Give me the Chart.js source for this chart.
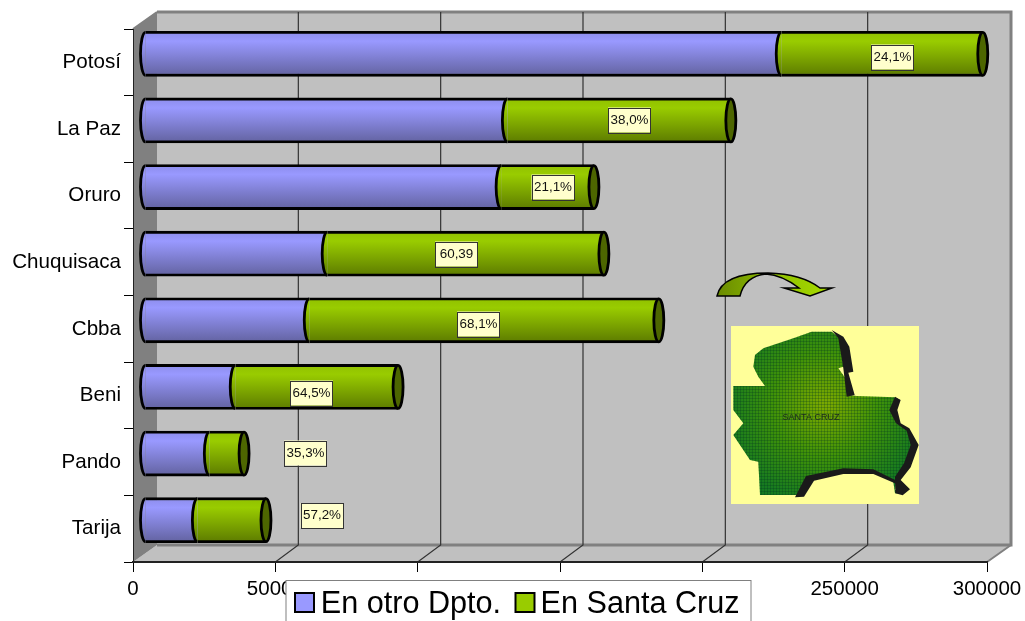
<!DOCTYPE html>
<html>
<head>
<meta charset="utf-8">
<style>html,body{margin:0;padding:0;background:#fff;overflow:hidden}canvas{display:block}</style>
<script src="https://cdn.jsdelivr.net/npm/chart.js@4"></script>
</head>
<body>
<canvas id="c" width="1025" height="621"></canvas>
<script>
const categories = ["Potosí","La Paz","Oruro","Chuquisaca","Cbba","Beni","Pando","Tarija"];
const enOtroDpto = [223500,127300,125100,64000,57700,31700,22600,18400];
const enSantaCruz = [70800,78500,32600,97200,122800,57200,12200,24100];
const shareLabels = ["24,1%","38,0%","21,1%","60,39","68,1%","64,5%","35,3%","57,2%"];
const seriesNames = ["En otro Dpto.","En Santa Cruz"];

const FONT = '"Liberation Sans", Arial, sans-serif';
const DEPTH = {x:24, y:-17};
const BAR = {x:12, y:-8.5, h:45, rx:5};
const LABEL_POS = [[892.5,57],[629.5,120],[553,187],[456.5,254],[478.5,324],[311.5,393],[305.5,453],[322,515.5]];
const BLUE = ['#8c8cea','#9999ff','#62629f'];
const GREEN = ['#90c000','#99cc00','#5c7a00'];

function barGradient(ctx, yc, c){
  const g = ctx.createLinearGradient(0, yc-BAR.h/2, 0, yc+BAR.h/2);
  g.addColorStop(0,c[0]); g.addColorStop(.22,c[1]); g.addColorStop(1,c[2]);
  return g;
}
function scriptFill(c, solid){
  return (context)=>{
    const y = context.chart.scales.y;
    if(!y || context.dataIndex===undefined) return solid;
    const yc = y.getPixelForValue(context.dataIndex);
    if(!Number.isFinite(yc)) return solid;
    return barGradient(context.chart.ctx, yc, c);
  };
}
const MAP = [[335,215],[395,215],[420,235],[425,280],[430,320],[415,325],[440,360],[445,405],[470,408],[585,412],[600,420],[575,450],[590,490],[625,510],[640,550],[620,610],[590,650],[585,690],[612,690],[600,700],[585,700],[580,665],[520,630],[430,630],[330,650],[290,705],[180,705],[175,605],[150,600],[130,570],[100,525],[130,490],[100,450],[100,378],[195,378],[175,350],[160,320],[165,285],[190,265],[280,235]];
const MAP_SHADOWS = [
  [[395,210],[430,230],[448,260],[460,335],[445,338],[464,405],[440,410],[430,325],[415,235]],
  [[585,410],[602,420],[592,450],[602,490],[628,505],[656,555],[632,622],[602,660],[630,688],[608,706],[586,700],[585,650],[612,610],[632,555],[620,512],[588,490],[568,450]],
  [[285,712],[318,648],[430,625],[520,628],[590,662],[590,672],[520,642],[430,642],[342,662],[312,710]]
];
function polyPath(ctx,pts){
  ctx.beginPath();
  pts.forEach((p,i)=>{const x=700+p[0]/3,y=260+p[1]/3; i?ctx.lineTo(x,y):ctx.moveTo(x,y);});
  ctx.closePath();
}
const scene = {
  id:'scene',
  beforeDraw(chart){
    const {ctx,chartArea:a,scales:{x}} = chart;
    const dx=DEPTH.x, dy=DEPTH.y;
    ctx.save();
    ctx.fillStyle='#fff'; ctx.fillRect(0,0,chart.width,chart.height);
    ctx.fillStyle='#c0c0c0';
    ctx.fillRect(a.left+dx,a.top+dy-1,a.width,a.height);
    ctx.beginPath();ctx.moveTo(a.left,a.bottom);ctx.lineTo(a.left+dx,a.bottom+dy);ctx.lineTo(a.right+dx,a.bottom+dy);ctx.lineTo(a.right,a.bottom);ctx.closePath();ctx.fill();
    ctx.fillStyle='#808080';
    ctx.beginPath();ctx.moveTo(a.left,a.top);ctx.lineTo(a.left+dx,a.top+dy);ctx.lineTo(a.left+dx,a.bottom+dy);ctx.lineTo(a.left,a.bottom);ctx.closePath();ctx.fill();
    ctx.strokeStyle='#808080';ctx.lineWidth=3;
    ctx.beginPath();ctx.moveTo(a.left+dx,a.top+dy);ctx.lineTo(a.right+dx,a.top+dy);ctx.lineTo(a.right+dx,a.bottom+dy);ctx.lineTo(a.left+dx,a.bottom+dy);ctx.stroke();
    ctx.lineWidth=2;
    ctx.beginPath();ctx.moveTo(a.right,a.bottom);ctx.lineTo(a.right+dx,a.bottom+dy);ctx.moveTo(a.left,a.top);ctx.lineTo(a.left+dx,a.top+dy);ctx.stroke();
    ctx.strokeStyle='#333';ctx.lineWidth=1.2;
    x.ticks.forEach(t=>{
      if(t.value===0||t.value===x.max) return;
      const px=x.getPixelForValue(t.value);
      ctx.beginPath();ctx.moveTo(px,a.bottom);ctx.lineTo(px+dx-1,a.bottom+dy);ctx.lineTo(px+dx-1,a.top+dy);ctx.stroke();
    });
    ctx.restore();
  },
  beforeDatasetsDraw(chart){ chart.ctx.save(); chart.ctx.translate(BAR.x,BAR.y); },
  afterDatasetsDraw(chart){
    const ctx=chart.ctx;
    const m0=chart.getDatasetMeta(0).data, m1=chart.getDatasetMeta(1).data;
    ctx.lineWidth=2.8; ctx.strokeStyle='#000';
    m0.forEach((b,i)=>{
      const e=m1[i], y=b.y, ry=BAR.h/2-1, rx=BAR.rx;
      const xs=b.base;
      ctx.fillStyle=barGradient(ctx,y,BLUE);
      ctx.beginPath();ctx.ellipse(xs,y,rx,ry,0,Math.PI/2,Math.PI*1.5);ctx.fill();ctx.stroke();
      ctx.fillStyle=barGradient(ctx,y,GREEN);
      ctx.beginPath();ctx.ellipse(b.x,y,rx,ry,0,Math.PI/2,Math.PI*1.5);ctx.fill();ctx.stroke();
      ctx.fillStyle='#4d6600';
      ctx.beginPath();ctx.ellipse(e.x,y,rx,ry,0,0,Math.PI*2);ctx.fill();ctx.stroke();
    });
    ctx.restore();
  },
  afterDraw(chart){
    const ctx=chart.ctx;
    ctx.save();
    // share labels
    ctx.font='13.4px '+FONT;ctx.textAlign='center';ctx.textBaseline='middle';
    shareLabels.forEach((s,i)=>{
      const [cx,cy]=LABEL_POS[i];
      ctx.fillStyle='#ffffcc';ctx.fillRect(cx-21.5,cy-12.5,43,25);
      ctx.strokeStyle='#333';ctx.lineWidth=1;ctx.strokeRect(Math.round(cx-21.5)+.5,Math.round(cy-12.5)+.5,42,25);
      ctx.fillStyle='#111';ctx.fillText(s,cx,cy);
    });
    // curved arrow
    const ag=ctx.createLinearGradient(717,0,832,0);
    ag.addColorStop(0,'#6a8a00');ag.addColorStop(.5,'#8fc000');ag.addColorStop(1,'#a8dc00');
    ctx.fillStyle=ag;ctx.strokeStyle='#000';ctx.lineWidth=1.5;
    ctx.beginPath();ctx.moveTo(717,296);ctx.quadraticCurveTo(722,273,768,273);ctx.quadraticCurveTo(802,274,820,288);
    ctx.lineTo(832,288);ctx.lineTo(810,296);ctx.lineTo(784,288);ctx.lineTo(799,288);ctx.quadraticCurveTo(782,275,766,274);
    ctx.quadraticCurveTo(745,276,740,296);ctx.closePath();ctx.fill();ctx.stroke();
    // map picture
    ctx.fillStyle='#ffff99';ctx.fillRect(731,326,188,178);
    const mg=ctx.createRadialGradient(825,405,5,825,405,100);
    mg.addColorStop(0,'#78a800');mg.addColorStop(.5,'#3f9208');mg.addColorStop(1,'#167a20');
    ctx.fillStyle=mg;polyPath(ctx,MAP);ctx.fill();
    ctx.save();polyPath(ctx,MAP);ctx.clip();
    ctx.strokeStyle='rgba(0,50,30,.25)';ctx.lineWidth=1;
    for(let px=731;px<920;px+=3){ctx.beginPath();ctx.moveTo(px+.5,326);ctx.lineTo(px+.5,504);ctx.stroke();}
    for(let py=326;py<505;py+=3){ctx.beginPath();ctx.moveTo(731,py+.5);ctx.lineTo(919,py+.5);ctx.stroke();}
    ctx.restore();
    ctx.fillStyle='#1a1a1a';
    MAP_SHADOWS.forEach(s=>{polyPath(ctx,s);ctx.fill();});
    ctx.fillStyle='#1c2a20';ctx.font='9px '+FONT;ctx.textAlign='center';
    ctx.fillText('SANTA CRUZ',811,418);
    // legend
    ctx.fillStyle='#fff';ctx.fillRect(286,580,465,45);
    ctx.strokeStyle='#808080';ctx.lineWidth=1;ctx.strokeRect(286,580.5,465,45);
    const items=[{sx:295,tx:320.8,c:'#9999ff'},{sx:515.5,tx:540.6,c:'#99cc00'}];
    ctx.font='30.6px '+FONT;ctx.textAlign='left';ctx.textBaseline='alphabetic';
    items.forEach((it,i)=>{
      ctx.fillStyle=it.c;ctx.fillRect(it.sx,593,19,19);
      ctx.strokeStyle='#000';ctx.lineWidth=2;ctx.strokeRect(it.sx,593,19,19);
      ctx.fillStyle='#000';ctx.fillText(chart.data.datasets[i].label,it.tx,613);
    });
    ctx.restore();
  }
};
new Chart(document.getElementById('c').getContext('2d'),{
  type:'bar',
  data:{
    labels:categories,
    datasets:[
      {label:seriesNames[0],data:enOtroDpto,backgroundColor:scriptFill(BLUE,'#9999ff'),borderColor:'#000',borderWidth:{top:2.8,bottom:2.8,left:0,right:0},borderSkipped:false,clip:false},
      {label:seriesNames[1],data:enSantaCruz,backgroundColor:scriptFill(GREEN,'#99cc00'),borderColor:'#000',borderWidth:{top:2.8,bottom:2.8,left:0,right:0},borderSkipped:false,clip:false}
    ]
  },
  options:{
    indexAxis:'y',
    responsive:false,
    devicePixelRatio:1,
    animation:false,
    datasets:{bar:{barThickness:BAR.h}},
    layout:{padding:{top:29,right:38,left:0,bottom:0}},
    plugins:{legend:{display:false},tooltip:{enabled:false}},
    scales:{
      x:{
        stacked:true,min:0,max:300000,
        afterFit(s){s.height=59;s.paddingRight=0;s.paddingLeft=0;},
        ticks:{stepSize:50000,maxRotation:0,autoSkip:false,padding:5,color:'#000',font:{family:FONT,size:20.5},callback:v=>String(v)},
        grid:{drawOnChartArea:false,drawTicks:true,tickLength:10,color:'#000'},
        border:{display:true,color:'#222',width:2}
      },
      y:{
        stacked:true,
        afterFit(s){s.width=133;},
        ticks:{padding:3,color:'#000',font:{family:FONT,size:20.6}},
        grid:{offset:true,drawOnChartArea:false,drawTicks:true,tickLength:9,color:'#000'},
        border:{display:true,color:'#222',width:1}
      }
    }
  },
  plugins:[scene]
});
</script>
</body>
</html>
